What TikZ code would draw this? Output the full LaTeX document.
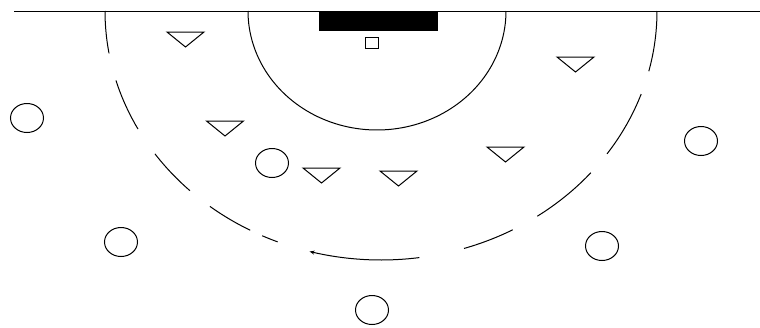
\documentclass[tikz,border=0pt]{standalone}
\usetikzlibrary{arrows.meta,shapes.geometric}
\begin{document}
\begin{tikzpicture}[x=1pt,y=-1pt,line width=1pt,
  player/.style={draw,ellipse,minimum width=33pt,minimum height=29pt,inner sep=0pt},
  defender/.pic={\draw (-18.5,0)--(18.5,0)--(0,15)--cycle;},
  run/.style={line width=1pt}]
\useasboundingbox (0,0) rectangle (760,327);
% baseline
\coordinate (bl) at (14,11);
\coordinate (br) at (760,11);
\draw (bl) -- (br);
% goal and small square
\fill (319,11) rectangle (438,31);
\draw[line width=0.9pt] (365.5,37.5) rectangle (378.5,48);
% key arc
\draw plot[domain=0:180,samples=90] ({377+129*cos(\x)},{11+119*sin(\x)});
% outer dashed arc
\foreach \a/\b in {0/14,19.5/35,40.5/55.5,61.5/72.5,112/115.5,118.3/128.3,133.8/145,151.7/163.8,170.2/180}
  \draw[run] plot[domain=\a:\b,samples=20] ({381+276*cos(\x)},{11+249*sin(\x)});
\draw[run,-{Stealth[length=5pt,width=4pt]}] plot[domain=82:105,samples=30] ({381+276*cos(\x)},{11+249*sin(\x)});
% defenders
\foreach \cx/\cy in {185.5/32,225/121,321.5/168,505.5/147,575.5/57,398.5/171}
  \pic at (\cx,\cy) {defender};
% attackers
\node[player] (c1) at (27,118) {};
\node[player] (c2) at (272,163) {};
\node[player] (c3) at (121,242) {};
\node[player] (c4) at (701,141) {};
\node[player] (c5) at (602,246) {};
\node[player] (c6) at (372,310) {};
\end{tikzpicture}
\end{document}
